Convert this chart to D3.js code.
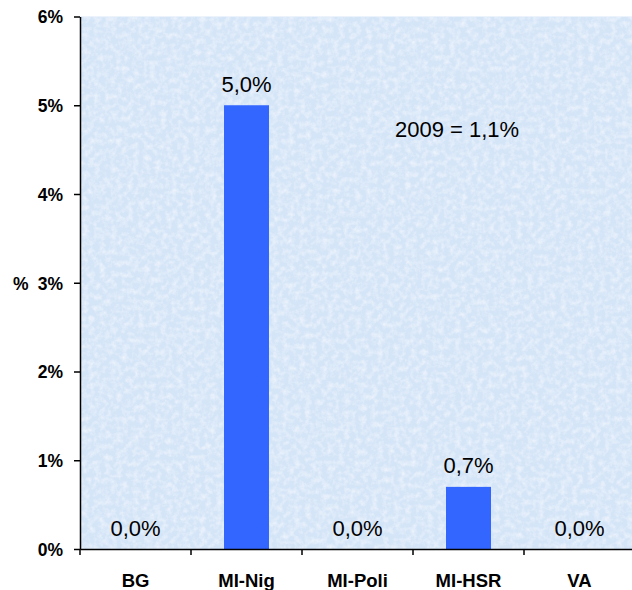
<!DOCTYPE html>
<html><head><meta charset="utf-8">
<script src="https://cdn.jsdelivr.net/npm/d3@7"></script>
<style>body{margin:0;background:#fff}svg{display:block}</style>
</head><body>
<script>
const categories = ["BG","MI-Nig","MI-Poli","MI-HSR","VA"];
const values = [0.0, 5.0, 0.0, 0.7, 0.0];
const valueLabels = ["0,0%","5,0%","0,0%","0,7%","0,0%"];
const yTicks = [0,1,2,3,4,5,6];
const note = "2009 = 1,1%";

const W = 632, H = 590;
const FONT = "Arial, 'Liberation Sans', sans-serif";
const svg = d3.select("body").append("svg").attr("width", W).attr("height", H);
const mLeft = 80, mRight = 635, mTop = 16.5, mBottom = 549;

const defs = svg.append("defs");
const f = defs.append("filter").attr("id","tex").attr("x",0).attr("y",0).attr("width","100%").attr("height","100%");
f.append("feTurbulence").attr("type","fractalNoise").attr("baseFrequency","0.18").attr("numOctaves",4).attr("seed",7).attr("result","n");
f.append("feColorMatrix").attr("in","n").attr("type","matrix")
 .attr("values","0 0 0 0 1  0 0 0 0 1  0 0 0 0 1  0 0 0 -1.0 0.6").attr("result","w");
f.append("feComposite").attr("in","w").attr("in2","SourceGraphic").attr("operator","in").attr("result","wc");
f.append("feMerge").call(m=>{m.append("feMergeNode").attr("in","SourceGraphic");m.append("feMergeNode").attr("in","wc");});

const x = d3.scaleBand().domain(categories).range([mLeft, mRight]).paddingInner(0).paddingOuter(0);
const y = d3.scaleLinear().domain([0, 6]).range([mBottom, mTop]);

svg.append("rect").attr("x", mLeft).attr("y", mTop).attr("width", mRight-mLeft).attr("height", mBottom-mTop)
  .attr("fill", "#d5e5f8").attr("filter","url(#tex)");

const bw = 45;
svg.selectAll("rect.bar").data(categories).enter().append("rect").attr("class","bar")
  .attr("x", d => x(d) + x.bandwidth()/2 - bw/2)
  .attr("width", bw)
  .attr("y", (d,i) => y(values[i]))
  .attr("height", (d,i) => mBottom - y(values[i]))
  .attr("fill", "#3366ff");

svg.selectAll("text.vl").data(categories).enter().append("text").attr("class","vl")
  .attr("x", d => x(d) + x.bandwidth()/2)
  .attr("y", (d,i) => y(values[i]) - 13.5)
  .attr("text-anchor","middle")
  .attr("font-family",FONT).attr("font-size", 22)
  .attr("fill","#000")
  .text((d,i) => valueLabels[i]);

svg.append("text").attr("x", 395).attr("y", 137)
  .attr("font-family",FONT).attr("font-size", 22)
  .text(note);

const yAxis = d3.axisLeft(y).tickValues(yTicks).tickFormat(d => d + "%").tickSize(6).tickSizeOuter(0).tickPadding(11);
const ya = svg.append("g").attr("transform", `translate(${mLeft},0)`).call(yAxis);
ya.selectAll("text").attr("font-family",FONT).attr("font-size",17.5).attr("font-weight","bold").attr("fill","#000").attr("dy","0.36em");
ya.selectAll("line, path").attr("stroke","#000").attr("stroke-width",1.5);

const xAxis = d3.axisBottom(x).tickSize(0).tickSizeOuter(0).tickPadding(0);
const xa = svg.append("g").attr("transform", `translate(0,${mBottom})`).call(xAxis);
xa.selectAll("text").attr("font-family",FONT).attr("font-size",18.5).attr("font-weight","bold").attr("fill","#000")
  .attr("dy", null).attr("y", 38);
xa.select("path").attr("stroke","#000").attr("stroke-width",1.5);
xa.selectAll(".sep").data(categories).enter().append("line").attr("class","sep")
  .attr("x1", d => x(d)).attr("x2", d => x(d)).attr("y1", 0).attr("y2", 6).attr("stroke","#000").attr("stroke-width",1.5);

svg.append("text").attr("x", 13).attr("y", 290)
  .attr("font-family",FONT).attr("font-size",17.5).attr("font-weight","bold").text("%");
</script>
</body></html>
